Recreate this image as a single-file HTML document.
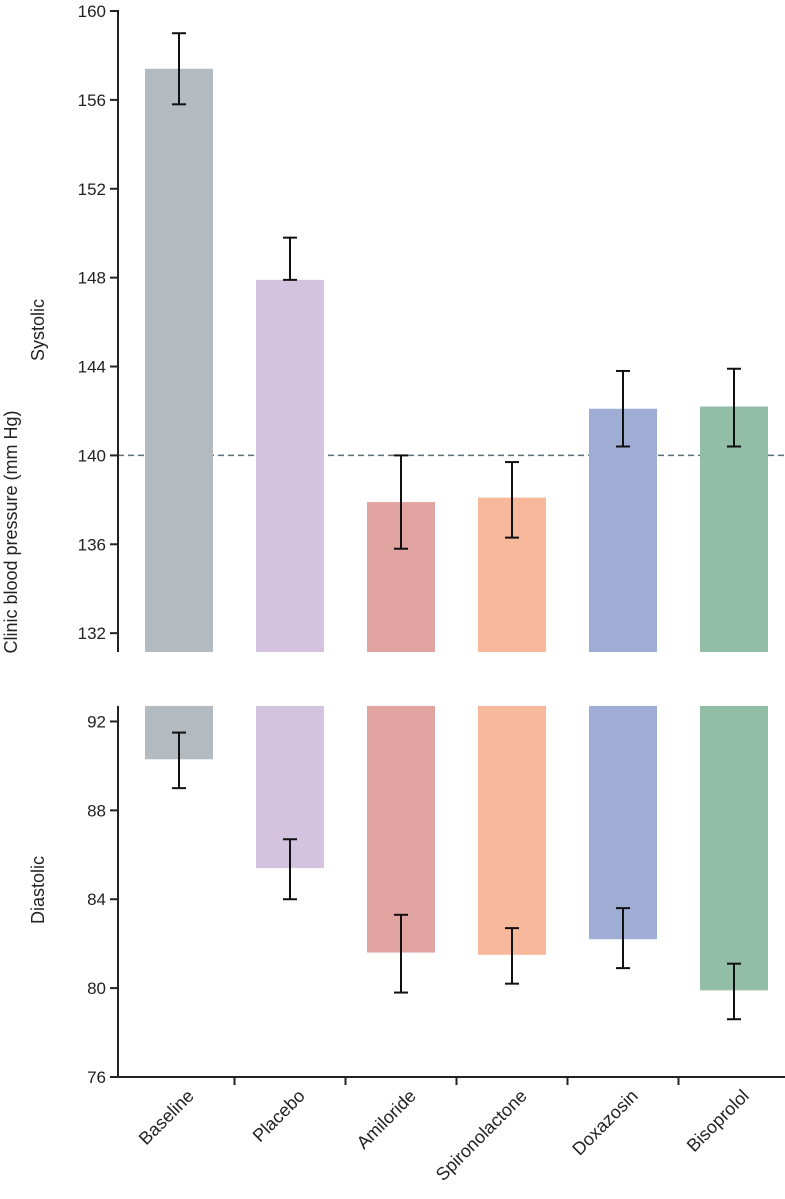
<!DOCTYPE html>
<html><head><meta charset="utf-8"><style>
html,body{margin:0;padding:0;background:#fff}
svg{display:block;font-family:"Liberation Sans",sans-serif}
</style></head><body>
<svg id="chart" width="785" height="1199" viewBox="0 0 785 1199" xmlns="http://www.w3.org/2000/svg"></svg>
<script>
const categories=["Baseline","Placebo","Amiloride","Spironolactone","Doxazosin","Bisoprolol"];
const colors=["#b3bbc0","#d4c3df","#e2a4a1","#f8b89c","#9fadd4","#92bda6"];
const sysValues=[157.4,147.9,137.9,138.1,142.1,142.2];
const sysLow=[155.8,147.9,135.8,136.3,140.4,140.4];
const sysHigh=[159.0,149.8,140.0,139.7,143.8,143.9];
const diaValues=[90.3,85.4,81.6,81.5,82.2,79.9];
const diaLow=[89.0,84.0,79.8,80.2,80.9,78.6];
const diaHigh=[91.5,86.7,83.3,82.7,83.6,81.1];
const sysTicks=[132,136,140,144,148,152,156,160];
const diaTicks=[76,80,84,88,92];
const target=140;

const NS="http://www.w3.org/2000/svg";
const svg=document.getElementById("chart");
function mk(tag,attrs,parent){const e=document.createElementNS(NS,tag);for(const k in attrs)e.setAttribute(k,attrs[k]);(parent||svg).appendChild(e);return e;}
const k=22.22;
const ySys=v=>11+(160-v)*k;
const yDia=v=>1077-(v-76)*k;
const sysBase=131.15, diaTop=92.7;
const x0=118, step=111, bw=68;
const xc=i=>179+i*step;

const dl=mk("line",{x1:x0,x2:785,y1:ySys(target),y2:ySys(target),stroke:"#5a6f7a","stroke-width":1.5,"stroke-dasharray":"6,4"});



function errbar(i,lo,hi,yf,name){
  const g=mk("g",{});
  
  
  const x=xc(i);
  mk("line",{x1:x,x2:x,y1:yf(lo),y2:yf(hi),stroke:"#111","stroke-width":2},g);
  mk("line",{x1:x-7,x2:x+7,y1:yf(lo),y2:yf(lo),stroke:"#111","stroke-width":2},g);
  mk("line",{x1:x-7,x2:x+7,y1:yf(hi),y2:yf(hi),stroke:"#111","stroke-width":2},g);
}
categories.forEach((c,i)=>{
  const r=mk("rect",{x:xc(i)-bw/2,y:ySys(sysValues[i]),width:bw,height:ySys(sysBase)-ySys(sysValues[i]),fill:colors[i]});
  
  
  errbar(i,sysLow[i],sysHigh[i],ySys,'systolic-error-'+c.toLowerCase());
  const r2=mk("rect",{x:xc(i)-bw/2,y:yDia(diaTop),width:bw,height:yDia(diaValues[i])-yDia(diaTop),fill:colors[i]});
  
  
  errbar(i,diaLow[i],diaHigh[i],yDia,'diastolic-error-'+c.toLowerCase());
  const tx=xc(i)+16, ty=1097;
  const t=mk("text",{x:tx,y:ty,"text-anchor":"end","font-size":18,fill:"#222",transform:`rotate(-45 ${tx} ${ty})`});
  t.textContent=c;
  
  
});
const ya1=mk("line",{x1:x0,x2:x0,y1:ySys(160)-1,y2:ySys(sysBase),stroke:"#222","stroke-width":2});


const ya2=mk("line",{x1:x0,x2:x0,y1:yDia(diaTop),y2:1078,stroke:"#222","stroke-width":2});


const xa=mk("line",{x1:x0-1,x2:785,y1:1077,y2:1077,stroke:"#222","stroke-width":2});


for(let i=0;i<categories.length;i++){
  const x=xc(i)+step/2;
  const tk=mk("line",{x1:x,x2:x,y1:1077,y2:1085,stroke:"#222","stroke-width":2});
  
  
}
function ytick(v,yf,name){
  const y=yf(v);
  const l=mk("line",{x1:x0-8,x2:x0,y1:y,y2:y,stroke:"#222","stroke-width":2});
  
  
  const t=mk("text",{x:x0-12,y:y+6,"text-anchor":"end","font-size":17,fill:"#222"});
  t.textContent=v;
  
  
}
sysTicks.forEach(v=>ytick(v,ySys,'systolic-y'));
diaTicks.forEach(v=>ytick(v,yDia,'diastolic-y'));
function rlabel(txt,x,y,name){
  const t=mk("text",{x:x,y:y,"text-anchor":"middle","font-size":18,fill:"#222",transform:`rotate(-90 ${x} ${y})`});
  t.textContent=txt;
  
  
}
rlabel("Systolic",44,330,'systolic-axis-title');
rlabel("Diastolic",44,890,'diastolic-axis-title');
rlabel("Clinic blood pressure (mm Hg)",17,532,'y-axis-title');
</script>
</body></html>
